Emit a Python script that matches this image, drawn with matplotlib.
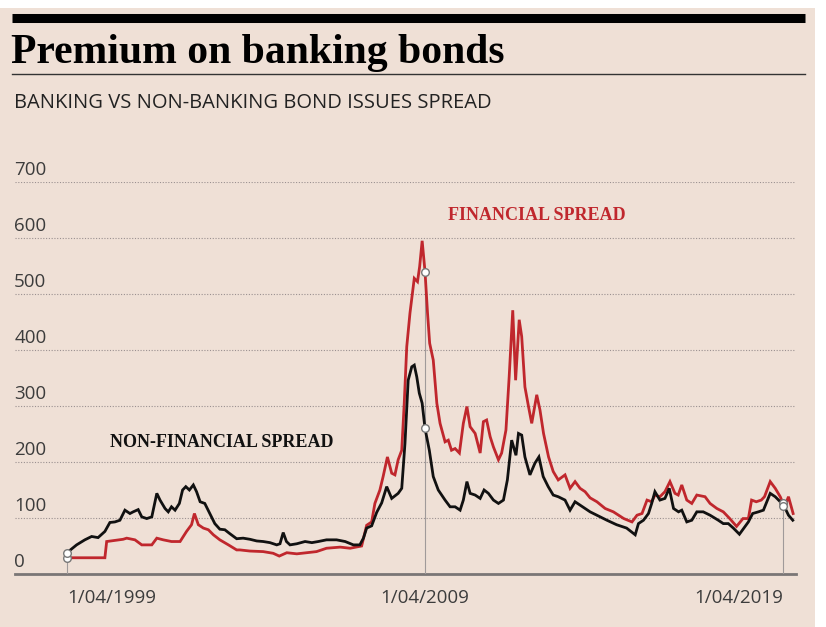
#!/usr/bin/env python3
"""
Premium on banking bonds - banking vs non-banking bond issue spreads.
"""

import numpy as np
import matplotlib
matplotlib.use('Agg')
import matplotlib.pyplot as plt
import matplotlib.transforms as mtransforms
from matplotlib.patches import Rectangle
from matplotlib.lines import Line2D

# Non-financial spread (black), decimal years / basis points
nonfin_years = [1999.25, 1999.29, 1999.52, 1999.75, 1999.94, 2000.12, 2000.31, 2000.45, 2000.59, 2000.73,
                2000.87, 2001.01, 2001.10, 2001.24, 2001.34, 2001.48, 2001.62, 2001.76, 2001.85, 2001.99,
                2002.08, 2002.17, 2002.27, 2002.39, 2002.48, 2002.57, 2002.67, 2002.78, 2002.87, 2002.97,
                2003.10, 2003.24, 2003.38, 2003.52, 2003.66, 2003.80, 2003.99, 2004.17, 2004.36, 2004.55,
                2004.73, 2004.92, 2005.11, 2005.20, 2005.29, 2005.38, 2005.48, 2005.67, 2005.90, 2006.09,
                2006.27, 2006.50, 2006.78, 2007.02, 2007.25, 2007.43, 2007.53, 2007.62, 2007.76, 2007.90,
                2008.04, 2008.18, 2008.32, 2008.50, 2008.60, 2008.69, 2008.78, 2008.88, 2008.95, 2009.02,
                2009.09, 2009.17, 2009.25, 2009.37, 2009.48, 2009.62, 2009.81, 2009.95, 2010.09, 2010.23,
                2010.32, 2010.42, 2010.51, 2010.65, 2010.79, 2010.90, 2011.02, 2011.16, 2011.30, 2011.44,
                2011.55, 2011.67, 2011.79, 2011.86, 2011.95, 2012.04, 2012.18, 2012.32, 2012.43, 2012.55,
                2012.69, 2012.83, 2012.97, 2013.16, 2013.30, 2013.44, 2013.58, 2013.72, 2013.86, 2014.05,
                2014.33, 2014.60, 2014.88, 2015.12, 2015.21, 2015.35, 2015.49, 2015.58, 2015.67, 2015.81,
                2015.95, 2016.07, 2016.19, 2016.33, 2016.42, 2016.56, 2016.70, 2016.84, 2017.02, 2017.21,
                2017.44, 2017.58, 2017.72, 2017.86, 2018.03, 2018.19, 2018.28, 2018.40, 2018.56, 2018.70,
                2018.89, 2019.03, 2019.17, 2019.31, 2019.40, 2019.52]
nonfin_values = [37, 40, 52, 61, 67, 65, 76, 92, 93, 96,
                 114, 108, 111, 115, 102, 99, 102, 144, 132, 117,
                 111, 120, 114, 126, 150, 156, 150, 159, 147, 129,
                 126, 108, 90, 80, 79, 72, 63, 64, 62, 59,
                 58, 56, 52, 54, 74, 58, 52, 54, 58, 56,
                 58, 61, 61, 58, 52, 52, 64, 82, 86, 110,
                 127, 156, 135, 144, 153, 233, 346, 370, 373, 352,
                 323, 305, 260, 221, 174, 150, 132, 120, 120, 114,
                 132, 165, 144, 141, 135, 150, 144, 132, 126, 132,
                 168, 239, 212, 251, 248, 209, 177, 198, 209, 174,
                 156, 141, 138, 132, 114, 129, 123, 117, 111, 105,
                 96, 88, 82, 70, 90, 96, 108, 126, 147, 132,
                 135, 153, 117, 111, 114, 93, 96, 111, 111, 105,
                 96, 90, 90, 82, 71, 85, 93, 108, 111, 114,
                 144, 138, 129, 117, 105, 96]

# Financial spread (red)
fin_years = [1999.25, 2000.31, 2000.36, 2000.82, 2000.92, 2001.15, 2001.34, 2001.62, 2001.76, 2001.94,
             2002.17, 2002.41, 2002.59, 2002.73, 2002.81, 2002.92, 2003.06, 2003.20, 2003.34, 2003.52,
             2003.76, 2003.99, 2004.08, 2004.36, 2004.73, 2005.01, 2005.18, 2005.39, 2005.67, 2005.95,
             2006.22, 2006.50, 2006.88, 2007.16, 2007.48, 2007.62, 2007.76, 2007.85, 2007.99, 2008.08,
             2008.20, 2008.32, 2008.41, 2008.50, 2008.60, 2008.67, 2008.74, 2008.83, 2008.95, 2009.04,
             2009.10, 2009.17, 2009.25, 2009.32, 2009.38, 2009.48, 2009.58, 2009.67, 2009.81, 2009.90,
             2009.99, 2010.09, 2010.21, 2010.32, 2010.42, 2010.51, 2010.65, 2010.79, 2010.88, 2010.97,
             2011.07, 2011.16, 2011.30, 2011.39, 2011.51, 2011.60, 2011.70, 2011.78, 2011.88, 2011.95,
             2012.04, 2012.14, 2012.23, 2012.37, 2012.46, 2012.56, 2012.70, 2012.83, 2012.97, 2013.16,
             2013.30, 2013.44, 2013.58, 2013.72, 2013.86, 2014.05, 2014.28, 2014.51, 2014.80, 2015.03,
             2015.17, 2015.31, 2015.45, 2015.58, 2015.67, 2015.81, 2015.95, 2016.09, 2016.23, 2016.32,
             2016.42, 2016.56, 2016.70, 2016.84, 2017.07, 2017.21, 2017.40, 2017.58, 2017.76, 2017.95,
             2018.13, 2018.28, 2018.37, 2018.50, 2018.64, 2018.73, 2018.89, 2019.03, 2019.17, 2019.29,
             2019.40, 2019.53]
fin_values = [29, 29, 58, 62, 64, 61, 52, 52, 64, 61,
              58, 58, 76, 88, 108, 88, 82, 79, 70, 61,
              52, 43, 43, 41, 40, 37, 32, 38, 36, 38,
              40, 46, 48, 46, 50, 87, 93, 126, 150, 174,
              209, 180, 177, 204, 221, 305, 406, 466, 528, 522,
              549, 595, 540, 466, 412, 382, 305, 269, 236, 239,
              221, 224, 216, 269, 299, 263, 251, 216, 272, 275,
              245, 227, 204, 216, 257, 352, 471, 346, 454, 424,
              334, 299, 269, 320, 293, 251, 209, 183, 168, 177,
              153, 165, 153, 147, 136, 129, 117, 111, 99, 93,
              105, 108, 132, 129, 141, 138, 147, 165, 144, 141,
              159, 132, 126, 141, 138, 126, 117, 111, 99, 85,
              99, 99, 132, 129, 132, 138, 165, 153, 138, 120,
              138, 108]

y_ticks = [0, 100, 200, 300, 400, 500, 600, 700]
x_tick_years = [1999.25, 2009.25, 2019.25]
x_tick_labels = ['1/04/1999', '1/04/2009', '1/04/2019']

BG = '#efe0d6'
RED = '#c0272d'
BLACK = '#111111'
W, H = 826, 627


def fx(px):
    return px / W


def fy(py):
    return 1 - py / H


fig = plt.figure(figsize=(W / 100, H / 100), dpi=100, facecolor='white')

# beige panel, thick bar, rule under title
fig.patches.append(Rectangle((0, 0), fx(815), fy(8), transform=fig.transFigure,
                             facecolor=BG, edgecolor='none', zorder=-10))
fig.add_artist(Line2D([fx(12), fx(805)], [fy(18), fy(18)], color='black', lw=6.5, solid_capstyle='butt'))
fig.add_artist(Line2D([fx(12), fx(805)], [fy(74), fy(74)], color='#333333', lw=1.0))

fig.text(fx(11), fy(63), 'Premium on banking bonds', fontsize=30, fontweight='bold',
         family='Liberation Serif', color='black', va='baseline')
fig.text(fx(14), fy(108), 'BANKING VS NON-BANKING BOND ISSUES SPREAD', fontsize=14.5,
         family='Open Sans', color='#222222', va='baseline')

ax = fig.add_axes([fx(15), fy(574), fx(796) - fx(15), fy(182) - fy(574)], zorder=5)
ax.patch.set_visible(False)
ax.set_xlim(1997.80, 2019.61)
ax.set_ylim(0, 700)
for s in ax.spines.values():
    s.set_visible(False)
ax.set_xticks([])
ax.set_yticks([])

# dotted gridlines and baseline
for v in y_ticks[1:]:
    ax.axhline(v, color='#9a9090', lw=0.8, ls=(0, (1, 1.5)), zorder=1)
ax.axhline(0, color='#7a7676', lw=2, zorder=2, clip_on=False)

# y labels sit above their gridline
offset = mtransforms.ScaledTranslation(0, 12 / 100, fig.dpi_scale_trans)
ytrans = mtransforms.blended_transform_factory(ax.transAxes, ax.transData) + offset
for v in y_ticks:
    ax.text(-0.001, v, str(v), transform=ytrans, fontsize=13.5, family='Open Sans',
            color='#3c3c3c', ha='left', va='center', clip_on=False)

# x labels
aligns = ['left', 'center', 'right']
for yr, lab, al in zip(x_tick_years, x_tick_labels, aligns):
    ax.text(yr, -42, lab, fontsize=13.5, family='Open Sans', color='#3c3c3c',
            ha=al, va='center', clip_on=False)

ax.plot(fin_years, fin_values, color=RED, lw=2.0, zorder=4, solid_joinstyle='miter')
ax.plot(nonfin_years, nonfin_values, color=BLACK, lw=2.0, zorder=5, solid_joinstyle='miter')

# marker circles with thin drop lines
for yr in x_tick_years:
    fv = np.interp(yr, fin_years, fin_values)
    nv = np.interp(yr, nonfin_years, nonfin_values)
    ax.plot([yr, yr], [0, max(fv, nv)], color='#a09a9a', lw=0.8, zorder=3)
    ax.scatter([yr, yr], [fv, nv], s=30, facecolor='white', edgecolor='#777777',
               linewidth=1.0, zorder=6, clip_on=False)

ax.text(2009.9, 641, 'FINANCIAL SPREAD', fontsize=13, fontweight='bold',
        family='Liberation Serif', color=RED, ha='left', va='center')
ax.text(2000.45, 234, 'NON-FINANCIAL SPREAD', fontsize=13, fontweight='bold',
        family='Liberation Serif', color=BLACK, ha='left', va='center')

fig.savefig('out.png', dpi=100, facecolor='white')
